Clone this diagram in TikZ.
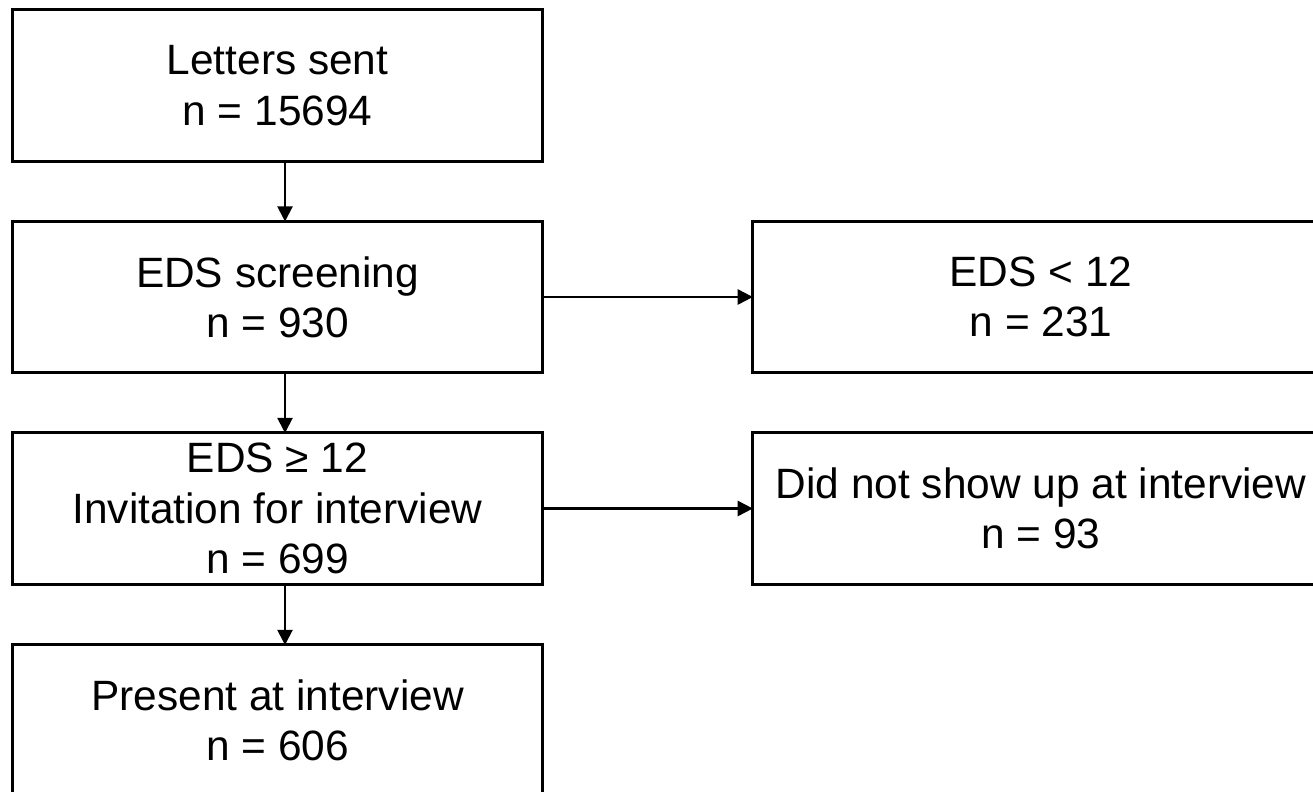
\documentclass[tikz,border=0pt]{standalone}
\usepackage{fontspec}
\setmainfont{Liberation Sans}
\usetikzlibrary{arrows.meta}

\begin{document}
\begin{tikzpicture}[x=0.01cm,y=-0.01cm,
    box/.style={rectangle,draw,line width=0.85pt,inner sep=0pt,outer sep=0pt,
      minimum width=5.29cm,minimum height=1.51cm,align=center,
      font=\fontsize{12.06pt}{14.3pt}\selectfont},
    sidebox/.style={box,minimum width=5.76cm},
    flow/.style={-{Triangle[length=4.3pt,width=4.3pt]},line width=0.6pt}]
        \useasboundingbox (0,0) rectangle (1313,791);
        \clip (0,0) rectangle (1313,791);
        \node [box] (letters) at (277.5,85.5) {Letters sent\\n = 15694};
        \node [box] (screen) at (277.5,297) {EDS screening\\n = 930};
        \node [box] (invite) at (277.5,508.5) {EDS ≥ 12\\Invitation for interview\\n = 699};
        \node [box] (present) at (277.5,720.5) {Present at interview\\n = 606};
        \node [sidebox] (low) at (1041,297) {EDS < 12\\n = 231};
        \node [sidebox] (absent) at (1041,508.5) {Did not show up at interview\\n = 93};
        \draw[flow] ([xshift=0.075cm]letters.south) -- ([xshift=0.075cm]screen.north);
        \draw[flow] ([xshift=0.075cm]screen.south) -- ([xshift=0.075cm]invite.north);
        \draw[flow] ([xshift=0.075cm]invite.south) -- ([xshift=0.075cm]present.north);
        \draw[flow] (screen.east) -- (low.west);
        \draw[flow] (invite.east) -- (absent.west);
      \end{tikzpicture}
\end{document}
